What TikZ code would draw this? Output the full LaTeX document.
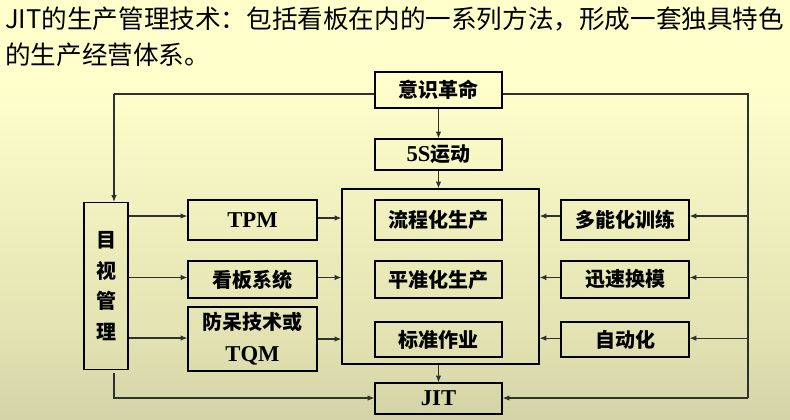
\documentclass[tikz,border=0pt]{standalone}
\usepackage{fontspec}
\setmainfont{Noto Sans CJK SC}
\newfontfamily\lat{Liberation Serif}
\newcommand{\latb}{\lat\bfseries\fontsize{17}{20}\selectfont}
\usetikzlibrary{arrows.meta}
\definecolor{bgtop}{HTML}{FFFFCC}
\definecolor{bgmid}{HTML}{E2E2B2}
\definecolor{bgbot}{HTML}{AEAE8C}
\definecolor{linec}{HTML}{303030}
\pgfdeclareverticalshading{bgsh}{100bp}{color(0bp)=(bgbot); color(35bp)=(bgmid); color(65bp)=(bgtop); color(100bp)=(bgtop)}
\begin{document}
\begin{tikzpicture}[x=0.75pt,y=-0.75pt,
  box/.style={draw=black,line width=0.9pt,inner sep=0pt,minimum width=95.25pt,
    font=\bfseries\fontsize{15}{18}\selectfont},
  lbox/.style={box,minimum width=96.75pt},
  rbox/.style={box,minimum width=96pt},
  conn/.style={draw=linec,line width=0.8pt},
  arr/.style={conn,-{Latex[length=5pt,width=4pt]}},
  title/.style={anchor=west,inner sep=0pt,font=\fontsize{19.2}{24}\selectfont}]
\shade[shading=bgsh] (0,0) rectangle (790,419);
\useasboundingbox (0,0) rectangle (790,419);
% title
\node[title] (t1) at (5,19) {JIT的生产管理技术：包括看板在内的一系列方法，形成一套独具特色};
\node[title] (t2) at (5,55) {的生产经营体系。};
% centre column
\node[box,minimum height=27pt] (yishi) at (438.5,90) {意识革命};
\node[box,minimum height=23.25pt] (s5) at (438.5,154.5) {{\latb 5S}运动};
\node[draw=black,line width=0.9pt,inner sep=0pt,minimum width=147.75pt,minimum height=131.25pt] (big) at (440.5,276.5) {};
\node[box,minimum height=30pt] (liucheng) at (438.5,220) {流程化生产};
\node[box,minimum height=27.75pt] (pingzhun) at (438.5,279.5) {平准化生产};
\node[box,minimum height=26.25pt] (biaozhun) at (438.5,339.5) {标准作业};
\node[box,minimum height=23.25pt] (jit) at (438.5,398.5) {\latb JIT};
% left column
\node[box,minimum width=33pt,minimum height=125.25pt,align=center,
  font=\bfseries\fontsize{15}{23}\selectfont] (mushi) at (106,286) {目\\视\\管\\理};
\node[lbox,minimum height=30pt] (tpm) at (252.5,220) {\latb TPM};
\node[lbox,minimum height=27.75pt] (kanban) at (252.5,279.5) {看板系统};
\node[lbox,minimum height=48pt,align=center,font=\bfseries\fontsize{15}{24}\selectfont] (fangdai) at (252.5,339) {防呆技术或\\{\latb TQM}};
% right column
\node[rbox,minimum height=30pt] (duoneng) at (625,220) {多能化训练};
\node[rbox,minimum height=27.75pt] (xunsu) at (625,279.5) {迅速换模};
\node[rbox,minimum height=26.25pt] (zidong) at (625,339.5) {自动化};
% corner coordinates
\coordinate (lt) at (114,94);
\coordinate (rt) at (748,94);
\coordinate (lb) at (114,398);
\coordinate (rb) at (748,398);
% vertical flow
\draw[arr] (yishi.south) -- (s5.north);
\draw[arr] (s5.south) -- (s5.south |- big.north);
\draw[arr] (jit.north |- big.south) -- (jit.north);
% top loop
\draw[conn] (yishi.west |- lt) -- (lt);
\draw[arr] (lt) -- (lt |- mushi.north);
\draw[conn] (yishi.east |- rt) -- (rt) -- (rb);
\draw[arr] (rb) -- (jit.east |- rb);
\draw[arr] ([yshift=-2.25pt]mushi.south -| lt) -- (lb) -- (jit.west |- lb);
% left arrows
\coordinate (a1) at ([yshift=3pt]tpm.west);
\coordinate (a2) at ([yshift=1.5pt]kanban.west);
\coordinate (a3) at ([yshift=0.75pt]fangdai.west);
\draw[arr] (a1 -| mushi.east) -- (a1);
\draw[arr] (a2 -| mushi.east) -- (a2);
\draw[arr] (a3 -| mushi.east) -- (a3);
\coordinate (b1) at ([yshift=1.5pt]tpm.east);
\coordinate (b2) at ([yshift=1.5pt]kanban.east);
\coordinate (b3) at ([yshift=0pt]fangdai.east);
\draw[arr] (b1) -- (b1 -| big.west);
\draw[arr] (b2) -- (b2 -| big.west);
\draw[arr] (b3) -- (b3 -| big.west);
% right arrows
\coordinate (c1) at ([yshift=3pt]duoneng.east);
\coordinate (c2) at ([yshift=1.5pt]xunsu.east);
\coordinate (c3) at ([yshift=1pt]zidong.east);
\draw[arr] (c1 -| rt) -- (c1);
\draw[arr] (c2 -| rt) -- (c2);
\draw[arr] (c3 -| rt) -- (c3);
\coordinate (d1) at ([yshift=3pt]duoneng.west);
\coordinate (d2) at ([yshift=1.5pt]xunsu.west);
\coordinate (d3) at ([yshift=1pt]zidong.west);
\draw[arr] (d1) -- (d1 -| big.east);
\draw[arr] (d2) -- (d2 -| big.east);
\draw[arr] (d3) -- (d3 -| big.east);
\end{tikzpicture}
\end{document}
